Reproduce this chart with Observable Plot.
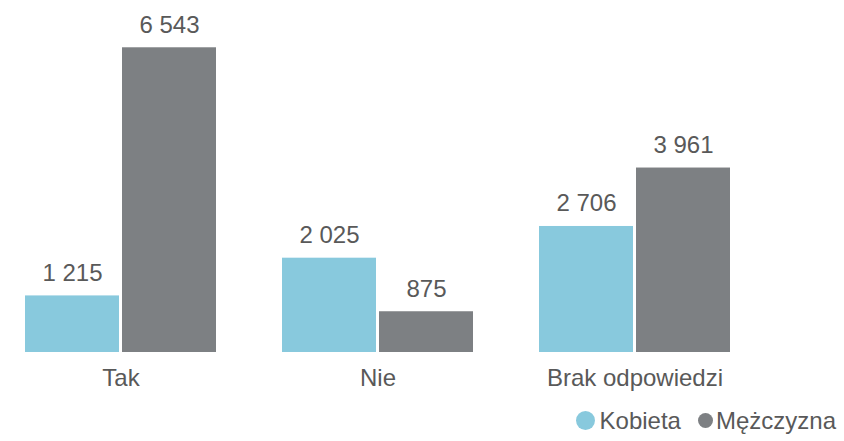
<!DOCTYPE html>
<html>
<head>
<meta charset="utf-8">
<script src="https://cdn.jsdelivr.net/npm/d3@7"></script>
<script src="https://cdn.jsdelivr.net/npm/@observablehq/plot@0.6"></script>
<style>
  body { margin: 0; background: #fff; font-family: "Liberation Sans", Arial, sans-serif; }
  #chart { width: 844px; }
  .legend { height: 41px; display: flex; justify-content: flex-end; align-items: center; padding-right: 8px; font-size: 24px; color: #595959; box-sizing: border-box; }
  .legend .item { display: flex; align-items: center; }
  .legend .dot { border-radius: 50%; display: inline-block; }
</style>
</head>
<body>
<div id="chart"></div>
<script>
const categories = ["Tak", "Nie", "Brak odpowiedzi"];
const series = ["Kobieta", "Mężczyzna"];
const kobieta = [1215, 2025, 2706];
const mezczyzna = [6543, 875, 3961];
const colors = ["#88C9DD", "#7D8083"];

const data = [];
categories.forEach((c, i) => {
  data.push({cat: c, sex: series[0], value: kobieta[i]});
  data.push({cat: c, sex: series[1], value: mezczyzna[i]});
});

const fmt = d3.formatLocale({decimal: ",", thousands: " ", grouping: [3], currency: ["", ""]}).format(",d");

const plot = Plot.plot({
  width: 844,
  height: 400,
  marginTop: 26,
  marginBottom: 48,
  marginLeft: 24,
  marginRight: 113,
  style: {fontFamily: "Liberation Sans, Arial, sans-serif", fontSize: "24px", color: "#595959", background: "#fff"},
  fx: {domain: categories, paddingInner: 0.25, paddingOuter: 0, label: null, axis: "bottom", tickSize: 0, tickPadding: 16},
  x: {domain: series, paddingInner: 0.03, paddingOuter: 0, axis: null},
  y: {domain: [0, 7000], axis: null},
  color: {domain: series, range: colors},
  marks: [
    Plot.barY(data, {fx: "cat", x: "sex", y: "value", fill: "sex"}),
    Plot.text(data, {fx: "cat", x: "sex", y: "value", text: d => fmt(d.value), lineAnchor: "bottom", dy: -15, fill: "#595959", fontSize: 24})
  ]
});
document.getElementById("chart").appendChild(plot);

const legend = document.createElement("div");
legend.className = "legend";
const sizes = [19, 15];
const gaps = [5, 3];
series.forEach((s, i) => {
  const item = document.createElement("span");
  item.className = "item";
  if (i > 0) item.style.marginLeft = "17px";
  const dot = document.createElement("span");
  dot.className = "dot";
  dot.style.width = sizes[i] + "px";
  dot.style.height = sizes[i] + "px";
  dot.style.background = colors[i];
  dot.style.marginRight = gaps[i] + "px";
  const label = document.createElement("span");
  label.textContent = s;
  item.appendChild(dot);
  item.appendChild(label);
  legend.appendChild(item);
});
document.body.appendChild(legend);
</script>
</body>
</html>
